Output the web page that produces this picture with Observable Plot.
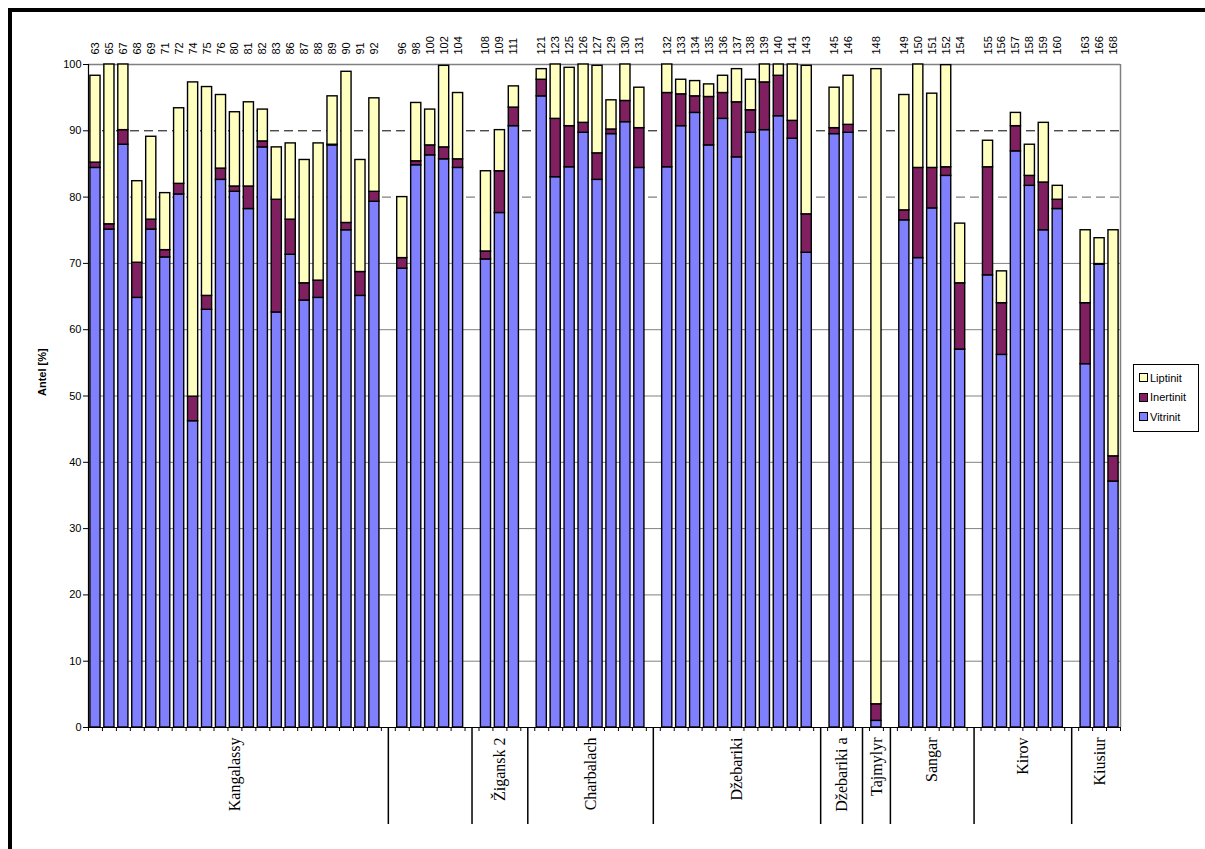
<!DOCTYPE html>
<html>
<head>
<meta charset="utf-8">
<script src="https://cdn.jsdelivr.net/npm/d3@7"></script>
<script src="https://cdn.jsdelivr.net/npm/@observablehq/plot@0.6"></script>
<style>
  body { margin: 0; background: #fff; }
  #wrap { position: relative; width: 1205px; height: 849px; overflow: hidden; font-family: "Liberation Sans", Arial, sans-serif; }
  #frame { position: absolute; left: 8px; top: 8px; width: 1210px; height: 850px; border: 4px solid #000; box-sizing: border-box; pointer-events: none; }
  #legend { position: absolute; left: 1133px; top: 364px; width: 66px; height: 68px; border: 1px solid #000; box-sizing: border-box; background: #fff; font-size: 11px; padding: 3px 0 0 5px; }
  #legend div { display: flex; align-items: center; height: 19.5px; }
  #legend span.sw { display: inline-block; width: 7px; height: 7px; border: 1px solid #000; margin-right: 2px; }
</style>
</head>
<body>
<div id="wrap">
  <div id="chart"></div>
  <div id="legend"></div>
  <div id="frame"></div>
</div>
<script>
// ---- data ----
const groupNames = ["Kangalassy", "", "Žigansk 2", "Charbalach", "Džebariki", "Džebariki a", "Tajmylyr", "Sangar", "Kirov", "Kiusiur"];
const groupSamples = [
  ["63","65","67","68","69","71","72","74","75","76","80","81","82","83","86","87","88","89","90","91","92"],
  ["96","98","100","102","104"],
  ["108","109","111"],
  ["121","123","125","126","127","129","130","131"],
  ["132","133","134","135","136","137","138","139","140","141","143"],
  ["145","146"],
  ["148"],
  ["149","150","151","152","154"],
  ["155","156","157","158","159","160"],
  ["163","166","168"]
];
const vitrinit = [
  84.4,75.1,87.9,64.8,75.1,70.9,80.4,46.2,63.0,82.6,80.8,78.2,87.5,62.6,71.3,64.4,64.8,87.8,75.0,65.1,79.3,
  69.2,84.8,86.3,85.7,84.4,
  70.6,77.6,90.7,
  95.2,83.0,84.5,89.7,82.6,89.5,91.3,84.4,
  84.5,90.7,92.7,87.8,91.8,86.0,89.7,90.1,92.2,88.8,71.6,
  89.5,89.7,
  1.0,
  76.5,70.8,78.3,83.2,57.0,
  68.2,56.2,86.9,81.7,75.0,78.2,
  54.8,69.8,37.1
];
const inertinit = [
  0.8,0.8,2.2,5.3,1.5,1.1,1.6,3.7,2.1,1.7,0.8,3.4,0.9,17.0,5.3,2.6,2.6,0.1,1.1,3.6,1.5,
  1.6,0.6,1.5,1.8,1.3,
  1.2,6.3,2.8,
  2.5,8.8,6.2,1.5,4.0,0.7,3.2,6.0,
  11.2,4.8,2.5,7.3,3.9,8.3,3.4,7.2,6.1,2.7,5.8,
  0.9,1.2,
  2.5,
  1.5,13.6,6.1,1.3,10.0,
  16.3,7.8,3.8,1.5,7.2,1.4,
  9.2,0.1,3.8
];
const liptinit = [
  13.1,24.1,9.9,12.3,12.5,8.6,11.4,47.4,31.5,11.1,11.2,12.7,4.8,7.9,11.5,18.6,20.7,7.3,22.8,16.9,14.1,
  9.2,8.8,5.4,12.3,10.0,
  12.1,6.2,3.2,
  1.6,8.2,8.8,8.8,13.2,4.4,5.5,6.1,
  4.3,2.2,2.3,1.9,2.6,5.0,4.6,2.7,1.7,8.5,22.4,
  6.1,7.4,
  95.8,
  17.4,15.6,11.2,15.4,9.0,
  4.0,4.8,2.0,4.7,9.0,2.1,
  11.0,3.9,34.1
];
const components = ["Vitrinit", "Inertinit", "Liptinit"];
const colors = ["#8080FF", "#802060", "#FFFFC0"];
const yTicks = [0,10,20,30,40,50,60,70,80,90,100];

// ---- build table ----
const rows = [], samples = [], seps = [], groups = [];
let slot = 0, k = 0;
groupSamples.forEach((ids, g) => {
  const start = slot;
  ids.forEach(id => {
    const vals = [vitrinit[k], inertinit[k], liptinit[k]];
    let base = 0;
    vals.forEach((v, c) => {
      rows.push({slot, component: components[c], y1: base, y2: base + v});
      base += v;
    });
    samples.push({id, slot});
    k++; slot++;
  });
  groups.push({name: groupNames[g], mid: (start + slot) / 2});
  if (g < groupSamples.length - 1) { seps.push(slot + 0.5); slot++; }
});
const nSlots = slot;

const chart = Plot.plot({
  width: 1205, height: 849,
  marginTop: 64, marginLeft: 88, marginRight: 85, marginBottom: 122,
  style: {fontFamily: "'Liberation Sans', Arial, sans-serif", fontSize: "11px", background: "transparent", overflow: "visible"},
  x: {type: "linear", domain: [0, nSlots], axis: null},
  y: {domain: [0, 100], axis: null},
  color: {domain: components, range: colors},
  marks: [
    Plot.ruleY(yTicks.filter(t => t > 0 && t < 80), {y: d => d, stroke: "#808080", strokeWidth: 1}),
    Plot.ruleY([80], {y: d => d, stroke: "#808080", strokeWidth: 1.3, strokeDasharray: "9,5"}),
    Plot.ruleY([90], {y: d => d, stroke: "#000", strokeWidth: 1, strokeDasharray: "9,5"}),
    Plot.ruleY([100], {y: d => d, stroke: "#808080", strokeWidth: 1.5}),
    Plot.ruleX([nSlots], {x: d => d, stroke: "#808080", strokeWidth: 1.5}),
    Plot.rectY(rows, {x1: d => d.slot, x2: d => d.slot + 1, y1: "y1", y2: "y2", fill: "component",
      stroke: "#000", strokeWidth: 1.4, insetLeft: 1.9, insetRight: 1.9}),
    Plot.ruleX([0], {x: d => d, stroke: "#000", strokeWidth: 1.2}),
    Plot.ruleY([0], {y: d => d, stroke: "#000", strokeWidth: 1.2}),
    Plot.axisY({ticks: yTicks, tickSize: 5, tickPadding: 2, label: null, fontSize: 11, fill: "#000"}),
    Plot.axisX({ticks: d3.range(0, nSlots + 1), tickSize: 4, tickFormat: () => "", label: null}),
    Plot.ruleX(seps, {x: d => d, stroke: "#000", strokeWidth: 1.5, insetTop: 663, insetBottom: -97}),
    Plot.text(samples, {x: d => d.slot + 0.5, text: "id", frameAnchor: "top", rotate: -90,
      textAnchor: "start", lineAnchor: "middle", dy: -10, fontSize: 11, fill: "#000"}),
    Plot.text(groups, {x: "mid", text: "name", frameAnchor: "bottom", rotate: -90,
      textAnchor: "end", lineAnchor: "middle", dy: 10, fontSize: 16, fill: "#000",
      fontFamily: "'Liberation Serif', 'Times New Roman', serif"}),
    Plot.text(["Antel [%]"], {text: d => d, frameAnchor: "left", rotate: -90, dx: -46,
      fontWeight: "bold", fontSize: 11, fill: "#000"})
  ]
});
document.getElementById("chart").appendChild(chart);

// legend (Liptinit on top, as in the reference)
const legend = d3.select("#legend");
components.slice().reverse().forEach((c, i) => {
  const row = legend.append("div");
  row.append("span").attr("class", "sw").style("background", colors[components.indexOf(c)]);
  row.append("span").text(c);
});
</script>
</body>
</html>
